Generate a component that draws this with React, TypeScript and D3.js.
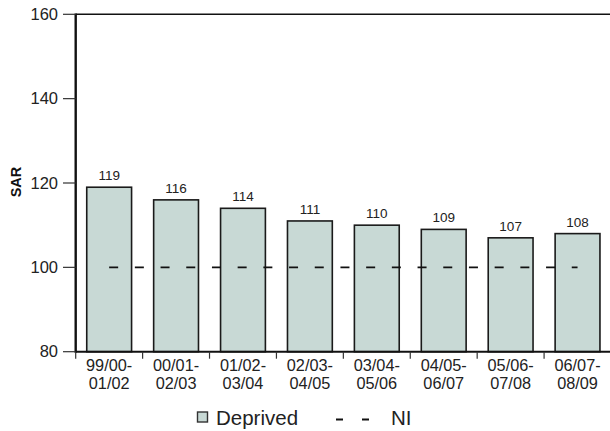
import * as d3 from 'd3'
import React, { useEffect, useRef } from 'react'

const periods = ['99/00-01/02', '00/01-02/03', '01/02-03/04', '02/03-04/05', '03/04-05/06', '04/05-06/07', '05/06-07/08', '06/07-08/09']
const deprived = [119, 116, 114, 111, 110, 109, 107, 108]
const niLevel = 100
const yTicks = [80, 100, 120, 140, 160]

const W = 610
const H = 431

const App: React.FC = () => {
    const ref = useRef<SVGSVGElement>(null)

    useEffect(() => {
        if (!ref.current) return
        const svg = d3.select(ref.current)
        svg.selectAll('*').remove()

        const left = 75.7, right = 611, top = 14.3, bottom = 351.7
        const font = 'Arial, "Liberation Sans", Helvetica, sans-serif'

        const x = d3.scaleBand<string>()
            .domain(periods)
            .range([left, right])
            .paddingInner(0.33)
            .paddingOuter(0.165)
        const y = d3.scaleLinear().domain([80, 160]).range([bottom, top])
        const step = x.step()

        // bars
        svg.append('g')
            .selectAll('rect')
            .data(deprived)
            .enter()
            .append('rect')
            .attr('x', (_, i) => x(periods[i])!)
            .attr('y', d => y(d))
            .attr('width', x.bandwidth())
            .attr('height', d => y(80) - y(d))
            .attr('fill', '#c8d9d5')
            .attr('stroke', '#1a1a1a')
            .attr('stroke-width', 1.6)

        // value labels
        svg.append('g')
            .attr('font-family', font)
            .attr('font-size', 13.5)
            .attr('text-anchor', 'middle')
            .selectAll('text')
            .data(deprived)
            .enter()
            .append('text')
            .attr('x', (_, i) => x(periods[i])! + x.bandwidth() / 2)
            .attr('y', d => y(d) - 7)
            .attr('fill', '#222')
            .text(d => d)

        // NI dashed line
        svg.append('line')
            .attr('x1', x(periods[0])! + x.bandwidth() / 2)
            .attr('x2', x(periods[periods.length - 1])! + x.bandwidth() / 2)
            .attr('y1', y(niLevel))
            .attr('y2', y(niLevel))
            .attr('stroke', '#111')
            .attr('stroke-width', 1.8)
            .attr('stroke-dasharray', '9,16.7')

        // top frame line
        svg.append('line')
            .attr('x1', left).attr('x2', W)
            .attr('y1', top).attr('y2', top)
            .attr('stroke', '#111').attr('stroke-width', 1.6)

        // y axis
        const yAxis = svg.append('g')
        yAxis.append('line')
            .attr('x1', left).attr('x2', left)
            .attr('y1', top - 0.8).attr('y2', bottom + 1)
            .attr('stroke', '#111').attr('stroke-width', 2.4)
        yAxis.selectAll('line.tick')
            .data(yTicks)
            .enter()
            .append('line')
            .attr('class', 'tick')
            .attr('x1', 63).attr('x2', left)
            .attr('y1', d => y(d)).attr('y2', d => y(d))
            .attr('stroke', '#333').attr('stroke-width', 1.2)
        yAxis.selectAll('text')
            .data(yTicks)
            .enter()
            .append('text')
            .attr('x', 58)
            .attr('y', d => y(d) + 5.5)
            .attr('text-anchor', 'end')
            .attr('font-family', font)
            .attr('font-size', 16.5)
            .attr('fill', '#222')
            .text(d => d)

        svg.append('text')
            .attr('transform', 'translate(21,182) rotate(-90)')
            .attr('text-anchor', 'middle')
            .attr('font-family', font)
            .attr('font-size', 14.5)
            .attr('font-weight', 'bold')
            .attr('fill', '#111')
            .text('SAR')

        // x axis
        const xAxis = svg.append('g')
        xAxis.append('line')
            .attr('x1', left).attr('x2', W)
            .attr('y1', bottom).attr('y2', bottom)
            .attr('stroke', '#111').attr('stroke-width', 2)
        const bounds = periods.map(p => x(p)! - (step * x.paddingInner()) / 2).concat([right])
        xAxis.selectAll('line.tick')
            .data(bounds)
            .enter()
            .append('line')
            .attr('class', 'tick')
            .attr('x1', d => d).attr('x2', d => d)
            .attr('y1', bottom).attr('y2', bottom + 7)
            .attr('stroke', '#333').attr('stroke-width', 1.2)
        const labels = xAxis.selectAll('text')
            .data(periods)
            .enter()
            .append('text')
            .attr('text-anchor', 'middle')
            .attr('font-family', font)
            .attr('font-size', 16.3)
            .attr('fill', '#222')
        labels.append('tspan')
            .attr('x', d => x(d)! + x.bandwidth() / 2)
            .attr('y', bottom + 19.5)
            .text(d => d.slice(0, 6))
        labels.append('tspan')
            .attr('x', d => x(d)! + x.bandwidth() / 2)
            .attr('y', bottom + 37)
            .text(d => d.slice(6))

        // legend
        const lg = svg.append('g').attr('font-family', font).attr('fill', '#222')
        lg.append('rect')
            .attr('x', 197.5).attr('y', 412)
            .attr('width', 10).attr('height', 10)
            .attr('fill', '#c8d9d5').attr('stroke', '#333').attr('stroke-width', 1.4)
        lg.append('text')
            .attr('x', 216).attr('y', 425)
            .attr('font-size', 20.5)
            .text('Deprived')
        lg.append('line')
            .attr('x1', 336).attr('x2', 371)
            .attr('y1', 419.5).attr('y2', 419.5)
            .attr('stroke', '#111').attr('stroke-width', 1.8)
            .attr('stroke-dasharray', '7,19')
        lg.append('text')
            .attr('x', 391).attr('y', 425)
            .attr('font-size', 20.5)
            .text('NI')
    }, [])

    return <svg ref={ref} width={W} height={H} style={{ position: 'absolute', left: 0, top: 0, background: '#fff' }} />
}

export default App
